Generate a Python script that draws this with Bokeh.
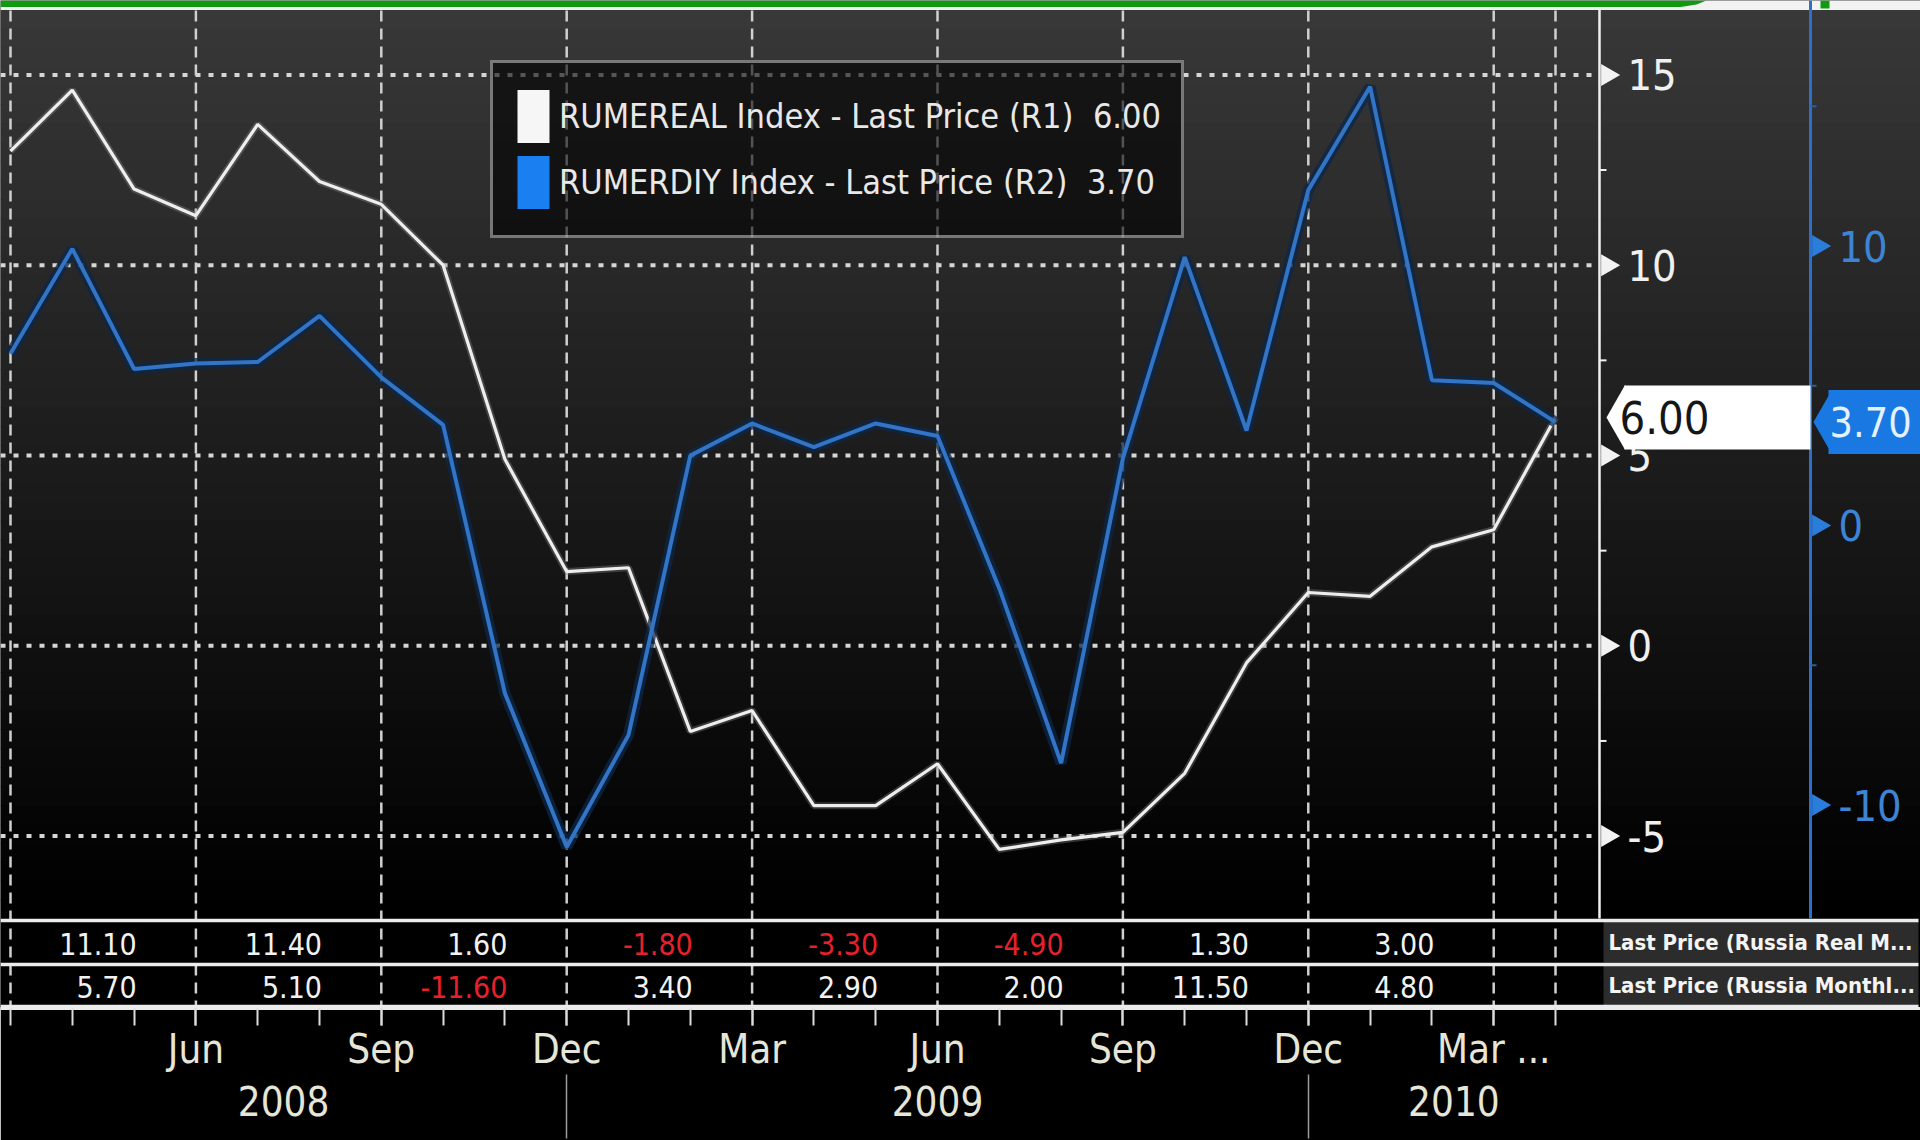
import numpy as np
from bokeh.plotting import figure
from bokeh.models import Range1d, LinearAxis, FixedTicker, Legend, LegendItem
from bokeh.core.properties import value
from bokeh.embed import file_html
from bokeh.resources import INLINE

# ---------------- data ----------------
months = ["2008-03", "2008-04", "2008-05", "2008-06", "2008-07", "2008-08", "2008-09",
          "2008-10", "2008-11", "2008-12", "2009-01", "2009-02", "2009-03", "2009-04",
          "2009-05", "2009-06", "2009-07", "2009-08", "2009-09", "2009-10", "2009-11",
          "2009-12", "2010-01", "2010-02", "2010-03", "2010-04"]
rumereal = [13.0, 14.6, 12.0, 11.3, 13.7, 12.2, 11.6, 10.0, 4.9, 1.95, 2.05, -2.25, -1.7,
            -4.2, -4.2, -3.1, -5.35, -5.1, -4.9, -3.35, -0.45, 1.4, 1.3, 2.6, 3.05, 6.0]
rumerdiy = [6.15, 9.9, 5.6, 5.8, 5.85, 7.5, 5.3, 3.6, -6.0, -11.5, -7.5, 2.5, 3.65,
            2.8, 3.65, 3.2, -2.25, -8.5, 2.4, 9.6, 3.4, 12.0, 15.7, 5.2, 5.1, 3.7]
real_last = 6.00
diy_last = 3.70
white_ticks = [15, 10, 5, 0, -5]
blue_ticks = [10, 0, -10]
legend_labels = ["RUMEREAL Index - Last Price (R1)  6.00",
                 "RUMERDIY Index - Last Price (R2)  3.70"]
table_months = ["2008-05", "2008-08", "2008-11", "2009-02", "2009-05", "2009-08", "2009-11", "2010-02"]
table_row1 = [11.10, 11.40, 1.60, -1.80, -3.30, -4.90, 1.30, 3.00]
table_row2 = [5.70, 5.10, -11.60, 3.40, 2.90, 2.00, 11.50, 4.80]
table_names = ["Last Price (Russia Real M...", "Last Price (Russia Monthl..."]
years = ["2008", "2009", "2010"]
MON = ["Jan", "Feb", "Mar", "Apr", "May", "Jun", "Jul", "Aug", "Sep", "Oct", "Nov", "Dec"]

# ---------------- layout (pixel space 1920x1140) ----------------
W, H = 1920, 1140
FRAME_B = 1008                      # bottom of drawing frame (px)
BOTTOM = H - FRAME_B
X0, DX = 10.0, 61.8                 # first month position and month spacing (px)
WY5, WPPU = 455.0, 38.06            # white scale: y of value 5, px per unit
BY0, BPPU = 525.0, 27.95            # blue scale: y of value 0, px per unit
PLOT_R = 1599                       # right edge of the plotting area (px)
FONT = "DejaVu Sans Condensed, Liberation Sans"

idx = list(range(len(months)))

x_range = Range1d(-X0 / DX, (W - X0) / DX)
y_range = Range1d(5 - (FRAME_B - WY5) / WPPU, 5 + WY5 / WPPU)

p = figure(width=W, height=H, x_range=x_range, y_range=y_range, title=None,
           output_backend="svg", toolbar_location=None,
           x_axis_location=None, y_axis_location=None,
           min_border_left=0, min_border_right=0, min_border_top=0,
           min_border_bottom=BOTTOM,
           background_fill_color="black", border_fill_color="black",
           outline_line_color=None)
p.grid.visible = False
p.extra_x_ranges = {"px": Range1d(0, W)}
p.extra_y_ranges = {"blue": Range1d((BY0 - FRAME_B) / BPPU, BY0 / BPPU),
                    "px": Range1d(FRAME_B, 0)}

# ---------------- background gradient ----------------
n = 48
edges = np.linspace(9, 918, n + 1)
top_c, bot_c = np.array([56, 56, 56]), np.array([0, 0, 0])
cols = []
for k in range(n):
    t = k / (n - 1)
    c = (top_c * (1 - t) + bot_c * t).astype(int)
    cols.append("#%02x%02x%02x" % tuple(c))
p.quad(left=0, right=W, top=edges[:-1], bottom=edges[1:] + 0.8, fill_color=cols,
       line_color=None, x_range_name="px", y_range_name="px")

# top strip
p.quad(left=0, right=W, top=0, bottom=9.5, fill_color="#f2f2f2", line_color=None,
       x_range_name="px", y_range_name="px")
p.patch(x=[0, 1706, 1696, 1680, 0], y=[0, 0, 4, 6.5, 6.5], fill_color="#0f9a0f",
        line_color=None, x_range_name="px", y_range_name="px")
p.quad(left=1820, right=1829, top=0, bottom=8, fill_color="#0f9a0f", line_color=None,
       x_range_name="px", y_range_name="px")

# ---------------- horizontal dotted grid ----------------
p.segment(x0=0, x1=PLOT_R, y0=white_ticks, y1=white_ticks, line_color="#d6d6d6",
          line_width=4, line_dash="5 8", x_range_name="px")

# ---------------- table background ----------------
p.quad(left=0, right=PLOT_R + 2, top=919, bottom=FRAME_B, fill_color="black", line_color=None,
       x_range_name="px", y_range_name="px")
p.quad(left=[1603, 1603], right=[1918, 1918], top=[921, 965], bottom=[962, 1006],
       fill_color="#2c2c2c", line_color=None, x_range_name="px", y_range_name="px")

# ---------------- vertical dashed grid (quarters + last point) ----------------
q_idx = [i for i, m in enumerate(months) if int(m[5:7]) % 3 == 0] + [idx[-1]]
p.segment(x0=q_idx, x1=q_idx, y0=10, y1=FRAME_B, line_color="#d0d0d0", line_width=2.5,
          line_dash="11 7", y_range_name="px")

# ---------------- table lines and values ----------------
p.segment(x0=0, x1=1918, y0=[920, 964, 1006], y1=[920, 964, 1006], line_color="#ececec",
          line_width=3.5, x_range_name="px", y_range_name="px")
tx = [months.index(m) + 0.04 for m in table_months]
for row, yy in ((table_row1, 943), (table_row2, 986)):
    p.text(x=tx, y=[yy] * len(row), text=["%.2f" % v for v in row],
           text_color=["#e8202a" if v < 0 else "#f2f2f2" for v in row],
           text_align="right", text_baseline="middle", text_font=value(FONT),
           text_font_size="30px", y_range_name="px")
p.text(x=[1608, 1608], y=[942, 985], text=table_names, text_color="#f4f4f4",
       text_font=value(FONT), text_font_style="bold", text_font_size="22px",
       text_baseline="middle", x_range_name="px", y_range_name="px")

# ---------------- series ----------------
p.line(idx, rumereal, line_color="#8a8a8a", line_alpha=0.35, line_width=7)
p.line(idx, rumereal, line_color="#eeeeee", line_width=3.2)
p.line(idx, rumerdiy, line_color="#0e2748", line_alpha=0.75, line_width=11, y_range_name="blue")
p.line(idx, rumerdiy, line_color="#3274c6", line_width=4, y_range_name="blue")

# ---------------- right axis 1 (white, R1) ----------------
p.segment(x0=PLOT_R, x1=PLOT_R, y0=9, y1=918, line_color="#f0f0f0", line_width=2.5,
          x_range_name="px", y_range_name="px")
w_minor = [(a + b) / 2 for a, b in zip(white_ticks[:-1], white_ticks[1:])]
p.segment(x0=PLOT_R, x1=PLOT_R + 7, y0=w_minor, y1=w_minor, line_color="#f0f0f0",
          line_width=2, x_range_name="px")
p.scatter(x=[1607] * len(white_ticks), y=white_ticks, marker="triangle", size=22,
          angle=-np.pi / 2, fill_color="#f2f2f2", line_color=None, x_range_name="px")
p.text(x=[1627] * len(white_ticks), y=white_ticks, text=[str(t) for t in white_ticks],
       text_color="#f0f0f0", text_font=value(FONT), text_font_size="43px",
       text_baseline="middle", x_range_name="px")

# ---------------- right axis 2 (blue, R2) ----------------
BX = 1810
p.segment(x0=BX, x1=BX, y0=0, y1=918, line_color="#2c70cc", line_width=3,
          x_range_name="px", y_range_name="px")
b_minor = [t + 5 for t in blue_ticks]
p.segment(x0=BX, x1=BX + 6, y0=b_minor, y1=b_minor, line_color="#2c5f9e",
          line_width=2, x_range_name="px", y_range_name="blue")
p.scatter(x=[BX + 8] * len(blue_ticks), y=blue_ticks, marker="triangle", size=22,
          angle=-np.pi / 2, fill_color="#2b7ddc", line_color=None,
          x_range_name="px", y_range_name="blue")
p.text(x=[BX + 28] * len(blue_ticks), y=blue_ticks, text=[str(t) for t in blue_ticks],
       text_color="#3d84d6", text_font=value(FONT), text_font_size="43px",
       text_baseline="middle", x_range_name="px", y_range_name="blue")

# ---------------- last value tags ----------------
TAG_H = 64
p.rect(x=(1624 + BX) / 2, y=real_last, width=BX - 1624, height=TAG_H, height_units="screen",
       fill_color="#ffffff", line_color=None, x_range_name="px")
p.wedge(x=1606, y=real_last, radius=37, radius_units="screen", start_angle=-1.05,
        end_angle=1.05, fill_color="#ffffff", line_color=None, x_range_name="px")
p.text(x=[1619], y=[real_last], text=["%.2f" % real_last], text_color="#161616",
       text_font=value(FONT), text_font_size="45px", text_baseline="middle",
       x_range_name="px")

p.rect(x=(1828 + W) / 2, y=diy_last, width=W - 1828, height=TAG_H,
       height_units="screen", fill_color="#1a78e2", line_color=None,
       x_range_name="px", y_range_name="blue")
p.wedge(x=1813, y=diy_last, radius=35, radius_units="screen", start_angle=-1.05,
        end_angle=1.05, fill_color="#1a78e2", line_color=None,
        x_range_name="px", y_range_name="blue")
p.text(x=[1829], y=[diy_last], text=["%.2f" % diy_last], text_color="#e4f1ff",
       text_font=value(FONT), text_font_size="41px", text_baseline="middle",
       x_range_name="px", y_range_name="blue")

# ---------------- legend ----------------
# one off-screen point each, so the legend can draw filled squares
lr1 = p.rect(x=[-50], y=[0], width=1, height=1, fill_color="#f6f6f6", line_color=None)
lr2 = p.rect(x=[-50], y=[0], width=1, height=1, fill_color="#1a7ff0", line_color=None)
legend = Legend(items=[LegendItem(label=legend_labels[0], renderers=[lr1]),
                       LegendItem(label=legend_labels[1], renderers=[lr2])],
                location=(490, FRAME_B - 238),
                padding=20, spacing=0, margin=0, glyph_width=40, glyph_height=66,
                label_height=66, label_standoff=6,
                label_text_font=FONT, label_text_font_size="34px",
                label_text_color="#e8e8e8",
                background_fill_color="black", background_fill_alpha=0.6,
                border_line_color="#dedede", border_line_width=3)
p.add_layout(legend)

# ---------------- bottom axes: months and years ----------------
q_major = [i for i in q_idx if 0 < i < idx[-1]]
overrides = {i: MON[int(months[i][5:7]) - 1] for i in q_major}
overrides[q_major[-1]] = overrides[q_major[-1]] + " ..."
xa = LinearAxis(ticker=FixedTicker(ticks=q_major, minor_ticks=idx),
                major_label_overrides=overrides,
                axis_line_color="#ececec", axis_line_width=3,
                major_tick_in=0, major_tick_out=17, minor_tick_in=0, minor_tick_out=17,
                major_tick_line_color="#dcdcdc", major_tick_line_width=2,
                minor_tick_line_color="#dcdcdc", minor_tick_line_width=2,
                major_label_standoff=0, major_label_text_font=FONT,
                major_label_text_font_size="40px", major_label_text_color="#e6e6d8")
p.add_layout(xa, "below")

seps = [i for i, m in enumerate(months) if m[5:7] == "12"]
bounds = [x_range.start] + seps + [(PLOT_R - X0) / DX]
centers = [round((a + b) / 2, 3) for a, b in zip(bounds[:-1], bounds[1:])]
SEP_LEN = 64
ya = LinearAxis(ticker=FixedTicker(ticks=centers, minor_ticks=seps),
                major_label_overrides={c: y for c, y in zip(centers, years)},
                axis_line_color=None, major_tick_in=0, major_tick_out=0,
                minor_tick_in=0, minor_tick_out=SEP_LEN,
                minor_tick_line_color="#9c9c9c", minor_tick_line_width=1.5,
                major_label_standoff=11 - SEP_LEN, major_label_text_font=FONT,
                major_label_text_font_size="40px", major_label_text_color="#e6e6d8")
p.add_layout(ya, "below")

open("out.html", "w").write(file_html(p, INLINE))
